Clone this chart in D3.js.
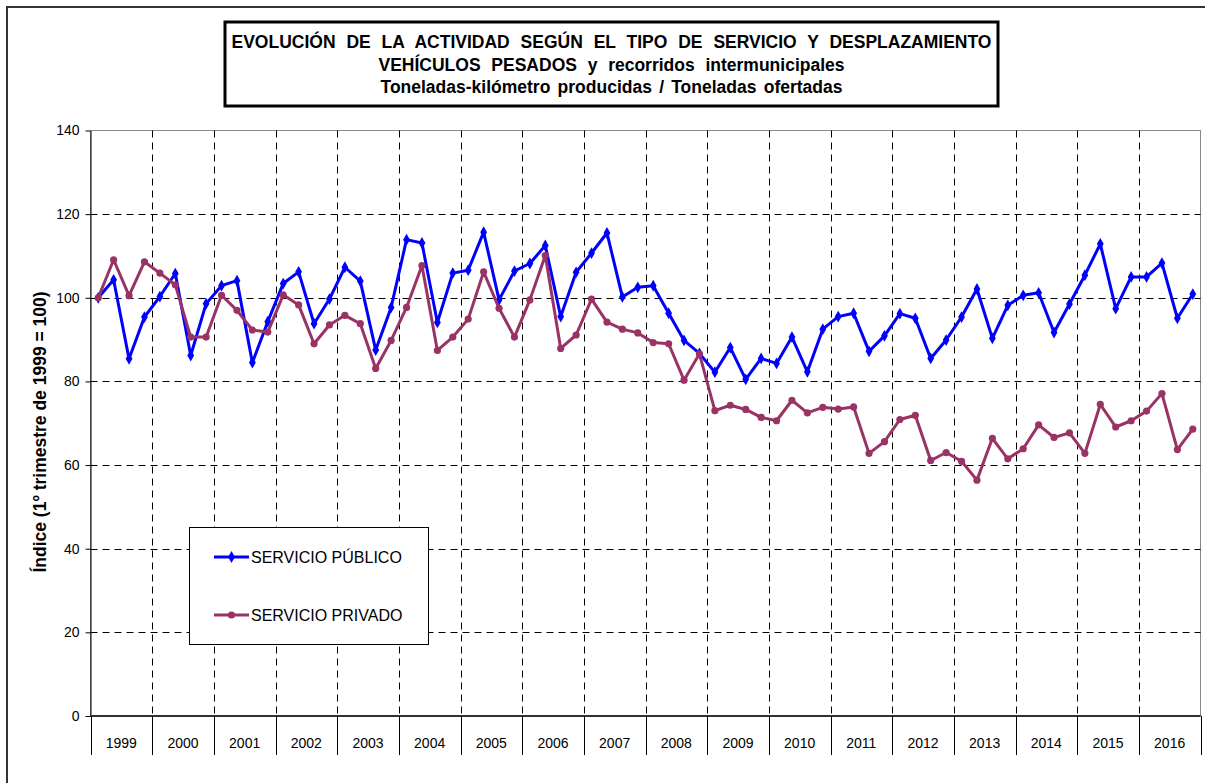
<!DOCTYPE html>
<html>
<head>
<meta charset="utf-8">
<script src="https://cdn.jsdelivr.net/npm/d3@7"></script>
<style>
  html, body { margin: 0; padding: 0; background: #fff; }
  svg { display: block; font-family: "Liberation Sans", Arial, sans-serif; }
</style>
</head>
<body>
<svg id="chart" width="1205" height="783"></svg>
<script>
// Years shown on the category axis (four quarters per year)
const years = ["1999","2000","2001","2002","2003","2004","2005","2006","2007",
               "2008","2009","2010","2011","2012","2013","2014","2015","2016"];

// Quarterly index, 1st quarter 1999 = 100
const servicioPublico = [
  100.0,104.3,85.4,95.4, 100.3,105.8,86.2,98.6, 102.9,104.1,84.5,94.3,
  103.4,106.2,93.8,99.7, 107.3,104.0,87.5,97.7, 113.9,113.1,94.1,105.9,
  106.6,115.7,99.5,106.4, 108.2,112.5,95.5,106.1, 110.7,115.5,100.2,102.5,
  102.9,96.3,89.8,86.7, 82.2,88.1,80.5,85.5, 84.3,90.6,82.3,92.5,
  95.5,96.3,87.2,90.9, 96.2,95.1,85.5,89.9, 95.4,102.1,90.3,98.2,
  100.6,101.2,91.7,98.5, 105.4,112.9,97.4,105.0, 105.0,108.3,95.1,100.9
];
const servicioPrivado = [
  100.0,109.1,100.5,108.6, 105.9,103.1,90.6,90.6, 100.6,97.0,92.3,91.8,
  100.7,98.3,89.0,93.5, 95.8,93.8,83.1,89.8, 97.7,107.7,87.4,90.6,
  94.9,106.2,97.5,90.6, 99.5,110.1,87.9,91.1, 99.7,94.2,92.5,91.6,
  89.3,89.0,80.3,86.6, 73.0,74.3,73.3,71.4, 70.6,75.5,72.5,73.8,
  73.4,73.9,62.8,65.6, 70.9,71.9,61.1,63.0, 60.9,56.4,66.4,61.5,
  63.9,69.6,66.6,67.7, 62.8,74.5,69.1,70.6, 72.9,77.1,63.7,68.6
];
const yTicks = [0, 20, 40, 60, 80, 100, 120, 140];

const titleLines = [
  "EVOLUCIÓN DE LA ACTIVIDAD SEGÚN EL TIPO DE SERVICIO Y DESPLAZAMIENTO",
  "VEHÍCULOS PESADOS y recorridos intermunicipales",
  "Toneladas-kilómetro producidas / Toneladas ofertadas"
];
const seriesNames = ["SERVICIO PÚBLICO", "SERVICIO PRIVADO"];
const seriesColors = ["#0000ff", "#993366"];

const svg = d3.select("#chart");

// Outer frame of the chart
svg.append("rect")
  .attr("x", 7).attr("y", 7).attr("width", 1215).attr("height", 800)
  .attr("fill", "#fff").attr("stroke", "#333").attr("stroke-width", 2);

// Title box; lines are fitted to their width by word spacing or slight condensing
const tb = { x: 225, y: 22, w: 773, h: 84 };
svg.append("rect")
  .attr("x", tb.x).attr("y", tb.y).attr("width", tb.w).attr("height", tb.h)
  .attr("fill", "#fff").attr("stroke", "#000").attr("stroke-width", 3);
const titleY = [48, 70.5, 93];
const titleLen = [760, 466, 462];
const titleSize = 17.5;
titleLines.forEach((t, i) => {
  const txt = svg.append("text")
    .attr("x", tb.x + tb.w / 2).attr("y", titleY[i])
    .attr("text-anchor", "middle")
    .attr("font-size", titleSize).attr("font-weight", "bold")
    .text(t);
  const natural = txt.node().getComputedTextLength();
  const spaces = t.split(" ").length - 1;
  if (natural < titleLen[i]) {
    txt.attr("word-spacing", (titleLen[i] - natural) / spaces);
  } else {
    txt.attr("textLength", titleLen[i]).attr("lengthAdjust", "spacingAndGlyphs");
  }
});

// Plot area
const plot = { left: 90.5, right: 1200.5, top: 130.5, bottom: 716 };

const quarters = d3.range(servicioPublico.length);
const x = d3.scaleBand().domain(quarters).range([plot.left, plot.right]);
const xc = i => x(i) + x.bandwidth() / 2;
const xYear = d3.scaleBand().domain(years).range([plot.left, plot.right]);
const y = d3.scaleLinear().domain([0, 140]).range([plot.bottom, plot.top]);

// Plot border
svg.append("rect")
  .attr("x", plot.left).attr("y", plot.top)
  .attr("width", plot.right - plot.left).attr("height", plot.bottom - plot.top)
  .attr("fill", "#fff").attr("stroke", "#888").attr("stroke-width", 1);

// Dashed gridlines
const grid = svg.append("g").attr("stroke", "#000").attr("stroke-width", 1)
  .attr("stroke-dasharray", "7,5");
grid.selectAll("line.h").data(yTicks.filter(v => v > 0 && v < 140)).join("line")
  .attr("x1", plot.left).attr("x2", plot.right)
  .attr("y1", d => Math.round(y(d)) + 0.5).attr("y2", d => Math.round(y(d)) + 0.5);
grid.selectAll("line.v").data(years.slice(1)).join("line")
  .attr("x1", d => Math.round(xYear(d)) + 0.5).attr("x2", d => Math.round(xYear(d)) + 0.5)
  .attr("y1", plot.top).attr("y2", plot.bottom);

// Y axis
const yAxis = svg.append("g")
  .attr("transform", `translate(${plot.left},0)`)
  .call(d3.axisLeft(y).tickValues(yTicks).tickSize(5).tickSizeOuter(0).tickPadding(6));
yAxis.select(".domain").attr("stroke", "#000");
yAxis.selectAll("text").attr("font-size", 14).attr("font-family", "Liberation Sans, Arial, sans-serif").attr("fill", "#000");

// X axis: baseline, year separators and centred year labels
svg.append("line")
  .attr("x1", plot.left).attr("x2", plot.right)
  .attr("y1", plot.bottom).attr("y2", plot.bottom)
  .attr("stroke", "#000").attr("stroke-width", 1.5);
const sepX = years.map(d => xYear(d)).concat([plot.right]);
svg.selectAll("line.sep").data(sepX).join("line")
  .attr("x1", d => Math.round(d) + 0.5).attr("x2", d => Math.round(d) + 0.5)
  .attr("y1", plot.bottom).attr("y2", 755)
  .attr("stroke", "#000").attr("stroke-width", 1);
svg.selectAll("text.year").data(years).join("text")
  .attr("x", d => xYear(d) + xYear.bandwidth() / 2).attr("y", 748)
  .attr("text-anchor", "middle").attr("font-size", 14)
  .text(d => d);

// Y axis title
svg.append("text")
  .attr("transform", `translate(46,432) rotate(-90)`)
  .attr("text-anchor", "middle").attr("font-size", 17.5).attr("font-weight", "bold")
  .text("Índice (1º trimestre de 1999 = 100)");

// Series lines with markers
const line = d3.line().x((d, i) => xc(i)).y(d => y(d));
const diamond = d3.symbol().type(d3.symbolDiamond).size(40);

[servicioPublico, servicioPrivado].forEach((values, s) => {
  const g = svg.append("g");
  g.append("path").datum(values)
    .attr("d", line).attr("fill", "none")
    .attr("stroke", seriesColors[s]).attr("stroke-width", 3)
    .attr("stroke-linejoin", "round");
  if (s === 0) {
    g.selectAll("path.m").data(values).join("path")
      .attr("d", diamond)
      .attr("transform", (d, i) => `translate(${xc(i)},${y(d)})`)
      .attr("fill", seriesColors[s]);
  } else {
    g.selectAll("circle").data(values).join("circle")
      .attr("cx", (d, i) => xc(i)).attr("cy", d => y(d)).attr("r", 3.6)
      .attr("fill", seriesColors[s]);
  }
});

// Legend
const lg = svg.append("g");
lg.append("rect")
  .attr("x", 189.5).attr("y", 527.5).attr("width", 239).attr("height", 117)
  .attr("fill", "#fff").attr("stroke", "#000").attr("stroke-width", 1);
const legendY = [557, 615];
seriesNames.forEach((name, s) => {
  lg.append("line")
    .attr("x1", 214).attr("x2", 249).attr("y1", legendY[s]).attr("y2", legendY[s])
    .attr("stroke", seriesColors[s]).attr("stroke-width", 3);
  if (s === 0) {
    lg.append("path").attr("d", diamond)
      .attr("transform", `translate(231.5,${legendY[s]})`).attr("fill", seriesColors[s]);
  } else {
    lg.append("circle").attr("cx", 231.5).attr("cy", legendY[s]).attr("r", 3.6)
      .attr("fill", seriesColors[s]);
  }
  lg.append("text")
    .attr("x", 251).attr("y", legendY[s] + 6)
    .attr("font-size", 16)
    .text(name);
});
</script>
</body>
</html>
